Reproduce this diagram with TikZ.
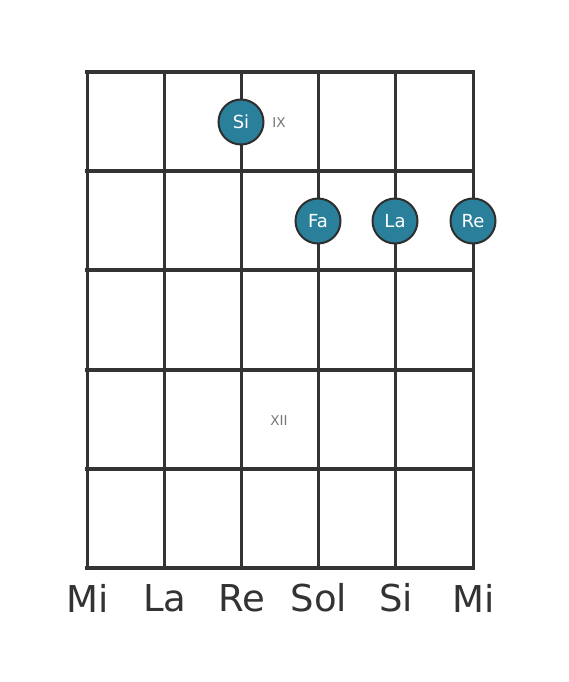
\documentclass[tikz,border=0pt]{standalone}
\usepackage{fontspec}
\setmainfont{DejaVu Sans}
\definecolor{gridc}{HTML}{333333}
\definecolor{notefill}{HTML}{2A7F9A}
\definecolor{noteedge}{HTML}{2E2E2E}
\definecolor{fretlab}{HTML}{777777}
\tikzset{
  notedot/.style={circle, fill=notefill, draw=noteedge, line width=2pt, minimum size=45pt, inner sep=0pt, text=white, font=\fontsize{18}{18}\selectfont},
  fretnum/.style={text=fretlab, font=\fontsize{13.5}{13.5}\selectfont, inner sep=0pt},
  strlab/.style={text=gridc, font=\fontsize{37}{37}\selectfont, inner sep=0pt},
}
\begin{document}
\begin{tikzpicture}[x=1pt,y=-1pt]
\useasboundingbox (0,0) rectangle (568,682);
\fill[white] (0,0) rectangle (568,682);
% vertical strings
\foreach \x in {87,164,241,318,395,473}
  \draw[gridc, line width=3pt] (\x,72) -- (\x,568);
% horizontal frets
\foreach \y in {72,171,270,370,469,568}
  \draw[gridc, line width=4pt, line cap=rect] (87,\y) -- (473,\y);
% notes
\node[notedot] (si) at (241,122) {Si};
\node[notedot] (fa) at (318,221) {Fa};
\node[notedot] (la) at (395,221) {La};
\node[notedot] (re) at (473,221) {Re};
% fret numbers
\node[fretnum] (ix) at (279,123) {IX};
\node[fretnum] (xii) at (279,421) {XII};
% string labels
\node[strlab] (s1) at (88,598) {Mi};
\node[strlab] (s2) at (165,598) {La};
\node[strlab] (s3) at (242,598) {Re};
\node[strlab] (s4) at (319,598) {Sol};
\node[strlab] (s5) at (396,598) {Si};
\node[strlab] (s6) at (474,598) {Mi};
\end{tikzpicture}
\end{document}
